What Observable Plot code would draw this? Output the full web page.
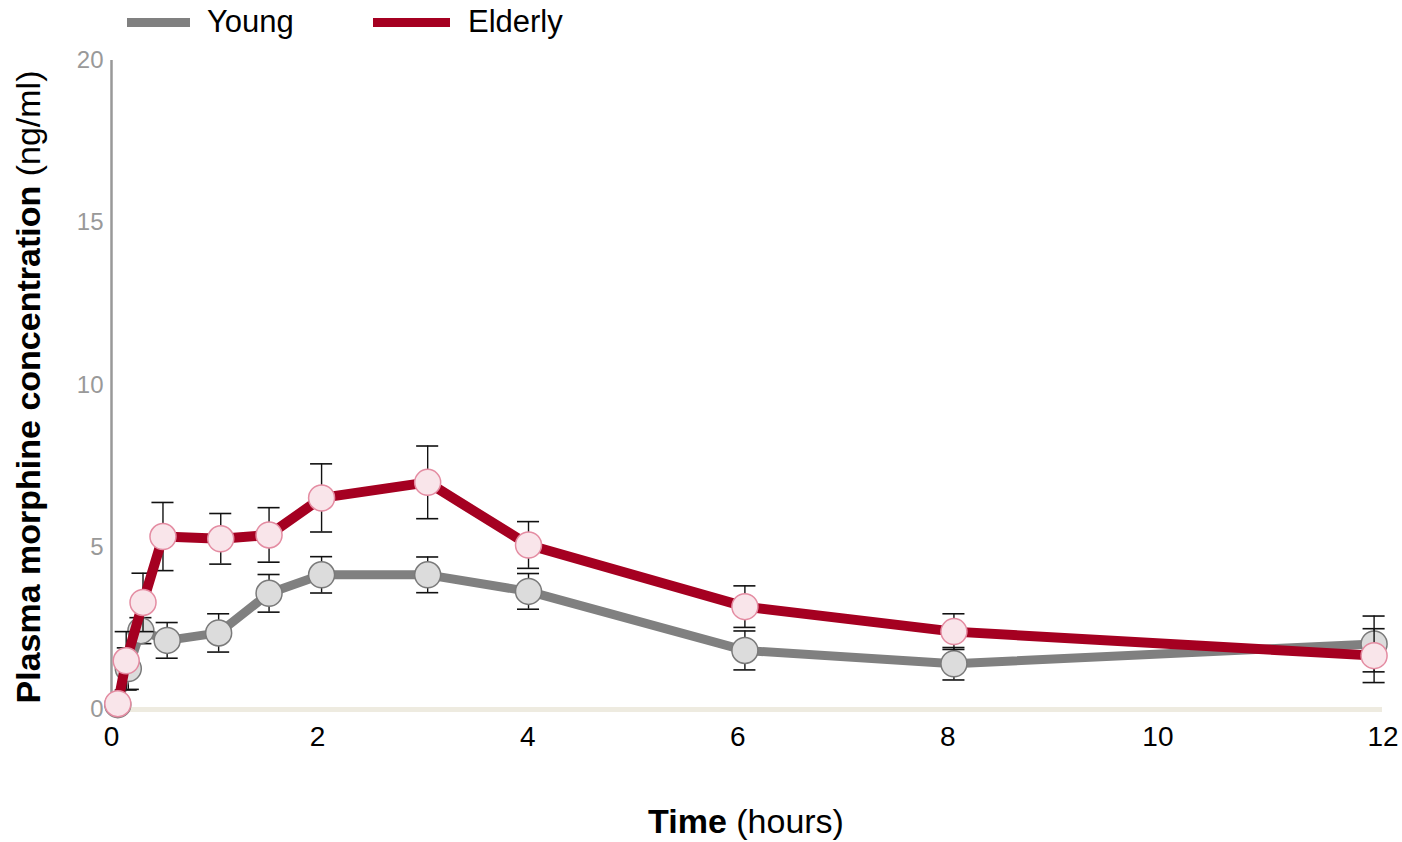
<!DOCTYPE html>
<html>
<head>
<meta charset="utf-8">
<script src="https://cdn.jsdelivr.net/npm/d3@7"></script>
<script src="https://cdn.jsdelivr.net/npm/@observablehq/plot@0.6"></script>
<style>
  body { margin: 0; background: #fff; font-family: "Liberation Sans", Arial, sans-serif; }
  #wrap { position: relative; width: 1402px; height: 842px; }
  #legend { position: absolute; left: 0; top: 0; width: 1402px; height: 45px; }
  .sw { position: absolute; height: 9px; top: 18px; }
  .lt { position: absolute; top: 4px; font-size: 31px; line-height: 36px; color: #000; }
</style>
</head>
<body>
<div id="wrap">
  <div id="chart"></div>
  <div id="legend">
    <div class="sw" style="left:127px;width:63px;background:#808080"></div>
    <div class="lt" style="left:207px">Young</div>
    <div class="sw" style="left:373px;width:77px;background:#a50021"></div>
    <div class="lt" style="left:468px">Elderly</div>
  </div>
</div>
<script>
const seriesNames = ["Young", "Elderly"];
const timesYoung = [0.06, 0.16, 0.28, 0.53, 1.02, 1.50, 2.00, 3.01, 3.97, 6.03, 8.02, 12.02];
const young      = [0.15, 1.26, 2.43, 2.13, 2.36, 3.58, 4.15, 4.15, 3.64, 1.82, 1.41, 2.02];
const youngErr   = [0,    0.64, 0.40, 0.55, 0.59, 0.58, 0.56, 0.55, 0.55, 0.60, 0.50, 0.86];
const timesElderly = [0.06, 0.14, 0.30, 0.49, 1.04, 1.50, 2.00, 3.01, 3.97, 6.03, 8.02, 12.02];
const elderly      = [0.18, 1.50, 3.30, 5.33, 5.26, 5.38, 6.52, 7.00, 5.07, 3.17, 2.40, 1.66];
const elderlyErr   = [0,    0.90, 0.90, 1.05, 0.78, 0.84, 1.05, 1.12, 0.72, 0.64, 0.55, 0.83];
const xTickFirst = [0];
const xTicks = [2, 4, 6, 8, 10];
const xTickLast = [12];
const yTicks = [0, 5, 10, 15, 20];

const mk = (ts, vs, es, s) => ts.map((t, i) => ({t, v: vs[i], e: es[i], s}));
const Y = mk(timesYoung, young, youngErr, seriesNames[0]);
const E = mk(timesElderly, elderly, elderlyErr, seriesNames[1]);
const capHalf = 0.105;
const errs = d => d.filter(r => r.e > 0);

const errMarks = (data) => [
  Plot.ruleX(errs(data), {x: "t", y1: d => d.v - d.e, y2: d => d.v + d.e, stroke: "#111", strokeWidth: 1.4}),
  Plot.ruleY(errs(data), {y: d => d.v + d.e, x1: d => d.t - capHalf, x2: d => d.t + capHalf, stroke: "#111", strokeWidth: 1.6}),
  Plot.ruleY(errs(data), {y: d => d.v - d.e, x1: d => d.t - capHalf, x2: d => d.t + capHalf, stroke: "#111", strokeWidth: 1.6})
];

const xAxisStyle = {tickSize: 0, tickPadding: 17, fontSize: 28, fill: "#000", label: null};

const plot = Plot.plot({
  width: 1402,
  height: 842,
  marginLeft: 111,
  marginRight: 20,
  marginTop: 60,
  marginBottom: 133,
  style: {fontFamily: "'Liberation Sans', Arial, sans-serif", background: "transparent", overflow: "visible"},
  x: {domain: [0, 12.1]},
  y: {domain: [0, 20]},
  marks: [
    Plot.ruleY([0], {stroke: "#eeebe0", strokeWidth: 5}),
    Plot.ruleX([0], {stroke: "#999", strokeWidth: 2.5}),
    Plot.axisY({ticks: yTicks, tickSize: 0, tickPadding: 8, fontSize: 24, fill: "#999", label: null}),
    Plot.axisX({...xAxisStyle, ticks: xTickFirst}),
    Plot.axisX({...xAxisStyle, ticks: xTicks, dx: -4}),
    Plot.axisX({...xAxisStyle, ticks: xTickLast, dx: 11}),
    ...errMarks(Y),
    Plot.line(Y, {x: "t", y: "v", stroke: "#808080", strokeWidth: 9}),
    Plot.dot(Y, {x: "t", y: "v", r: 13, fill: "#dcdcdc", stroke: "#7a7a7a", strokeWidth: 1.5}),
    ...errMarks(E),
    Plot.line(E, {x: "t", y: "v", stroke: "#a50021", strokeWidth: 10}),
    Plot.dot(E, {x: "t", y: "v", r: 13, fill: "#f9e5ea", stroke: "#e48ca2", strokeWidth: 1.5})
  ]
});
document.getElementById("chart").appendChild(plot);

const svg = d3.select(plot);
const yl = svg.append("text")
  .attr("transform", "translate(40,387) rotate(-90)")
  .attr("text-anchor", "middle")
  .attr("font-size", 34)
  .attr("fill", "#000");
yl.append("tspan").attr("font-weight", "bold").text("Plasma morphine concentration");
yl.append("tspan").text(" (ng/ml)");
const xl = svg.append("text")
  .attr("x", 746).attr("y", 833)
  .attr("text-anchor", "middle")
  .attr("font-size", 34)
  .attr("fill", "#000");
xl.append("tspan").attr("font-weight", "bold").text("Time");
xl.append("tspan").text(" (hours)");
</script>
</body>
</html>
